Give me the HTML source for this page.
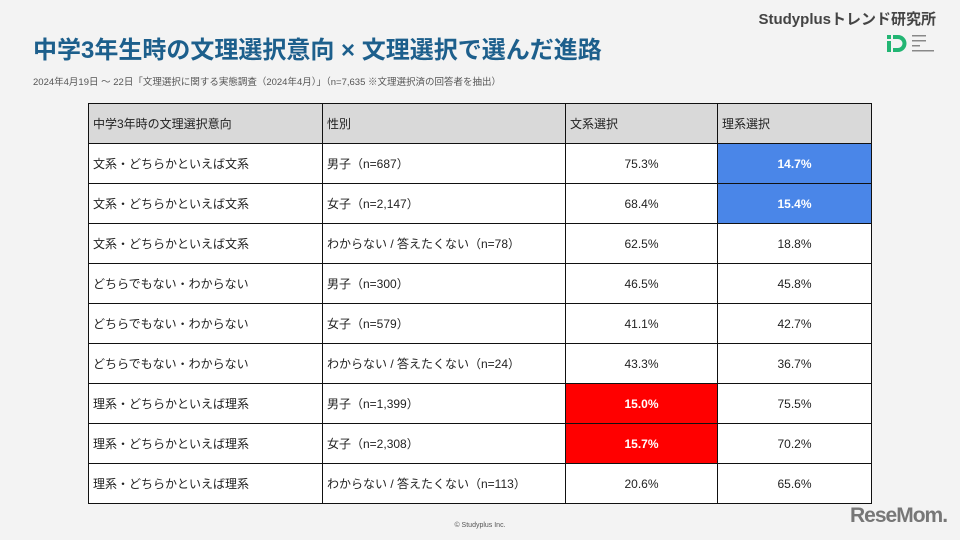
<!DOCTYPE html>
<html><head><meta charset="utf-8"><style>
body{margin:0;width:960px;height:540px;background:#f3f3f3;font-family:"Liberation Sans","Noto Sans CJK JP",sans-serif;position:relative;overflow:hidden}
.title{position:absolute;left:33px;top:30px;font-size:24px;font-weight:bold;color:#1d5f8c;letter-spacing:0px}
.sub{position:absolute;left:33px;top:74px;font-size:9.5px;color:#555}
.brand{position:absolute;right:24px;top:8px;font-size:15px;font-weight:bold;color:#444}
.logo{position:absolute;left:887px;top:33px;width:20px;height:20px}
table{position:absolute;left:88px;top:103px;border-collapse:collapse;font-size:12px;color:#222}
tr{height:40px}
td{border:1.3px solid #111;padding:0 0 0 4px;background:#fff}
tr.h td{background:#d9d9d9}
td.n{text-align:center;padding:0}
td.blue{background:#4a86e8;color:#fff;font-weight:bold}
td.red{background:#ff0000;color:#fff;font-weight:bold}
.copy{position:absolute;left:0;width:960px;top:522px;text-align:center;font-size:7px;color:#555}
.rm{position:absolute;left:850px;top:504px;font-size:21px;font-weight:bold;color:#777;letter-spacing:-1px}
</style></head><body>
<div class="title">中学3年生時の文理選択意向 × 文理選択で選んだ進路</div>
<div class="sub">2024年4月19日 ～ 22日「文理選択に関する実態調査（2024年4月）」（n=7,635 ※文理選択済の回答者を抽出）</div>
<div class="brand">Studyplusトレンド研究所</div>
<svg class="logo" viewBox="0 0 20 20"><rect x="0" y="2" width="4" height="4" fill="#22b573"/><rect x="0" y="8" width="4" height="11" fill="#22b573"/><path d="M6 2h5a8.5 8.5 0 0 1 0 17H6v-4h5a4.5 4.5 0 0 0 0-9H6z" fill="#22b573"/></svg>
<svg style="position:absolute;left:912px;top:34px" width="26" height="20"><g fill="#888"><rect x="0" y="1" width="14" height="1.5"/><rect x="0" y="6" width="14" height="1.5"/><rect x="0" y="11" width="8" height="1.5"/><rect x="0" y="16" width="22" height="1.5"/></g></svg>
<table id="t">
<colgroup><col style="width:234px"><col style="width:243px"><col style="width:152px"><col style="width:154px"></colgroup>
<tr class="h"><td>中学3年時の文理選択意向</td><td>性別</td><td>文系選択</td><td>理系選択</td></tr>
</table>
<div class="copy">© Studyplus Inc.</div>
<div class="rm">ReseMom.</div>
<script>
const intents=["文系・どちらかといえば文系","文系・どちらかといえば文系","文系・どちらかといえば文系","どちらでもない・わからない","どちらでもない・わからない","どちらでもない・わからない","理系・どちらかといえば理系","理系・どちらかといえば理系","理系・どちらかといえば理系"];
const genders=["男子（n=687）","女子（n=2,147）","わからない / 答えたくない（n=78）","男子（n=300）","女子（n=579）","わからない / 答えたくない（n=24）","男子（n=1,399）","女子（n=2,308）","わからない / 答えたくない（n=113）"];
const bunkei=[75.3,68.4,62.5,46.5,41.1,43.3,15.0,15.7,20.6];
const rikei=[14.7,15.4,18.8,45.8,42.7,36.7,75.5,70.2,65.6];
const t=document.getElementById('t');
intents.forEach((s,i)=>{
 const tr=document.createElement('tr');
 
 
 const cells=[s,genders[i],bunkei[i].toFixed(1)+'%',rikei[i].toFixed(1)+'%'];
 cells.forEach((c,j)=>{
  const td=document.createElement('td');
  
  
  td.textContent=c;
  if(j>=2)td.className='n';
  if(j===2&&i>=6&&bunkei[i]<20)td.className='n red';
  if(j===3&&i<3&&rikei[i]<18)td.className='n blue';
  tr.appendChild(td);
 });
 t.appendChild(tr);
});
</script>
</body></html>
